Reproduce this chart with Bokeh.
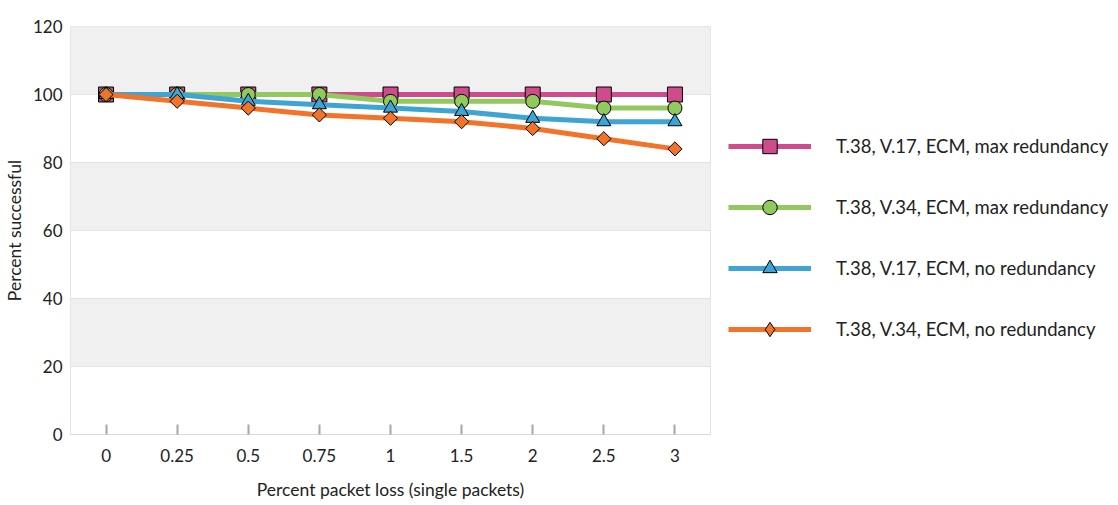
import math
from bokeh.plotting import figure
from bokeh.models import FactorRange, Range1d, FixedTicker, Legend, LegendItem
from bokeh.embed import file_html
from bokeh.resources import INLINE

x_labels = ["0", "0.25", "0.5", "0.75", "1", "1.5", "2", "2.5", "3"]
y_ticks = [0, 20, 40, 60, 80, 100, 120]
v17_max = [100, 100, 100, 100, 100, 100, 100, 100, 100]
v34_max = [100, 100, 100, 100, 98, 98, 98, 96, 96]
v17_none = [100, 100, 98, 97, 96, 95, 93, 92, 92]
v34_none = [100, 98, 96, 94, 93, 92, 90, 87, 84]

series_names = [
    "T.38, V.17, ECM, max redundancy",
    "T.38, V.34, ECM, max redundancy",
    "T.38, V.17, ECM, no redundancy",
    "T.38, V.34, ECM, no redundancy",
]
series_values = [v17_max, v34_max, v17_none, v34_none]
colors = ["#CE4B8C", "#92C95E", "#3DA4D3", "#F2742B"]
markers = ["square", "circle", "triangle", "square"]
legend_markers = ["square", "circle", "triangle", "diamond"]
sizes = [15, 14, 14, 10]
angles = [0, 0, 0, math.pi / 4]

FONT = "Lato"
TXT = "#222222"

p = figure(
    frame_width=640, frame_height=408,
    x_range=FactorRange(*x_labels, range_padding=0),
    y_range=Range1d(0, 120),
    output_backend="svg", toolbar_location=None,
    min_border_left=64, min_border_right=0, min_border_top=26, min_border_bottom=60,
)
p.background_fill_color = "white"
p.outline_line_color = "#e3e3e3"

p.xgrid.grid_line_color = None
p.ygrid.grid_line_color = "#e3e3e3"
p.ygrid.band_fill_color = "#f0f0f0"
p.ygrid.band_fill_alpha = 1.0

p.yaxis.ticker = FixedTicker(ticks=y_ticks)
p.yaxis.axis_line_color = None
p.yaxis.major_tick_line_color = None
p.yaxis.minor_tick_line_color = None
p.yaxis.major_label_standoff = 2
p.yaxis.axis_label = "Percent successful"
p.yaxis.axis_label_standoff = 5

p.xaxis.axis_line_color = "#d9d9d9"
p.xaxis.major_tick_in = 10
p.xaxis.major_tick_out = 0
p.xaxis.major_tick_line_color = "#a6a6a6"
p.xaxis.major_tick_line_width = 2
p.xaxis.major_label_standoff = 14
p.xaxis.axis_label = "Percent packet loss (single packets)"
p.xaxis.axis_label_standoff = 14

for ax in (p.xaxis[0], p.yaxis[0]):
    ax.major_label_text_font = FONT
    ax.major_label_text_font_size = "17px"
    ax.major_label_text_color = TXT
    ax.axis_label_text_font = FONT
    ax.axis_label_text_font_size = "17.5px"
    ax.axis_label_text_font_style = "normal"
    ax.axis_label_text_color = TXT

items = []
for name, vals, c, m, lm, s, a in zip(series_names, series_values, colors, markers,
                                      legend_markers, sizes, angles):
    ln = p.line(x_labels, vals, line_color=c, line_width=5)
    sc = p.scatter(x_labels, vals, marker=m, size=s, angle=a, fill_color=c,
                   line_color="black", line_width=1)
    if lm == m:
        items.append(LegendItem(label=name, renderers=[ln, sc]))
    else:
        # legend-only glyph (zero size in the plot)
        key = p.scatter(x_labels, vals, marker=lm, size=0, fill_color=c,
                        line_color="black", line_width=1)
        items.append(LegendItem(label=name, renderers=[ln, key]))

legend = Legend(items=items, location=(18, 87))
legend.padding = 0
legend.margin = 0
legend.border_line_color = None
legend.background_fill_alpha = 0
legend.glyph_width = 83
legend.glyph_height = 36
legend.spacing = 25
legend.label_standoff = 25
legend.label_text_font = FONT
legend.label_text_font_size = "18.5px"
legend.label_text_color = TXT
legend.label_text_baseline = "middle"
p.add_layout(legend, "right")

open("out.html", "w").write(file_html(p, INLINE))
